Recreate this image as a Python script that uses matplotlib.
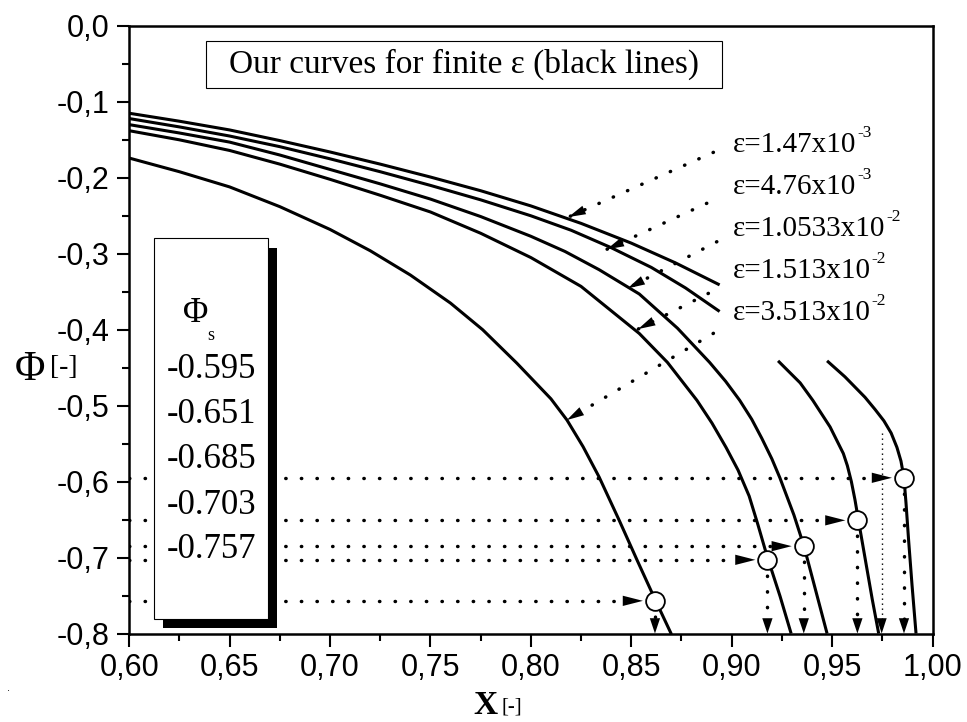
import matplotlib
matplotlib.use('Agg')
import matplotlib.pyplot as plt
from matplotlib.patches import Rectangle
from matplotlib.ticker import MultipleLocator, FuncFormatter

plt.rcParams['font.family'] = ['Liberation Sans', 'DejaVu Sans']
plt.rcParams['mathtext.fontset'] = 'custom'
plt.rcParams['mathtext.rm'] = 'Liberation Serif'
plt.rcParams['mathtext.default'] = 'regular'

# ---------------- data ----------------
# curve 1 (eps = 1.47e-3), drawn in two pieces
x_c1a = [0.600, 0.625, 0.650, 0.675, 0.700, 0.725, 0.750, 0.775, 0.800, 0.825, 0.850, 0.872, 0.894]
y_c1a = [-0.115, -0.1255, -0.137, -0.151, -0.166, -0.182, -0.199, -0.217, -0.237, -0.260,
         -0.286, -0.312, -0.341]
x_c1b = [0.9475, 0.9564, 0.9664, 0.9714, 0.9758, 0.9794, 0.9823, 0.9843, 0.9858, 0.9868,
         0.9881, 0.9898, 0.9918]
y_c1b = [-0.441, -0.462, -0.489, -0.505, -0.520, -0.536, -0.555, -0.573, -0.595, -0.628,
         -0.677, -0.736, -0.800]
# curve 2 (eps = 4.76e-3), drawn in two pieces
x_c2a = [0.600, 0.625, 0.650, 0.675, 0.700, 0.725, 0.750, 0.775, 0.800, 0.820, 0.840, 0.860,
         0.877, 0.894]
y_c2a = [-0.122, -0.133, -0.145, -0.159, -0.175, -0.192, -0.210, -0.229, -0.250, -0.269,
         -0.292, -0.318, -0.345, -0.376]
x_c2b = [0.9231, 0.9341, 0.9404, 0.9490, 0.9556, 0.9576, 0.9596, 0.9614, 0.9632, 0.9665,
         0.9700, 0.9732]
y_c2b = [-0.441, -0.470, -0.493, -0.528, -0.563, -0.579, -0.600, -0.624, -0.652, -0.702,
         -0.755, -0.800]
# curve 3 (eps = 1.0533e-2)
x_c3 = [0.600, 0.625, 0.650, 0.675, 0.700, 0.725, 0.750, 0.775, 0.800, 0.817, 0.834, 0.854,
        0.873, 0.889, 0.897, 0.904, 0.910, 0.915, 0.920, 0.924, 0.931, 0.936, 0.9415, 0.9475]
y_c3 = [-0.130, -0.141, -0.153, -0.170, -0.189, -0.208, -0.228, -0.251, -0.277, -0.297,
        -0.321, -0.353, -0.398, -0.443, -0.468, -0.493, -0.518, -0.543, -0.570, -0.595,
        -0.644, -0.685, -0.740, -0.800]
# curve 4 (eps = 1.513e-2)
x_c4 = [0.600, 0.625, 0.650, 0.675, 0.700, 0.725, 0.750, 0.775, 0.800, 0.825, 0.854, 0.868,
        0.8827, 0.8902, 0.8972, 0.9032, 0.9087, 0.9131, 0.9176, 0.9241, 0.9296]
y_c4 = [-0.138, -0.150, -0.164, -0.182, -0.202, -0.223, -0.245, -0.273, -0.305, -0.343,
        -0.405, -0.443, -0.493, -0.523, -0.555, -0.585, -0.619, -0.657, -0.698, -0.751, -0.800]
# curve 5 (eps = 3.513e-2)
x_c5 = [0.600, 0.625, 0.650, 0.675, 0.700, 0.720, 0.740, 0.760, 0.776, 0.793, 0.810, 0.818,
        0.826, 0.834, 0.844, 0.853, 0.862, 0.870]
y_c5 = [-0.174, -0.192, -0.212, -0.238, -0.268, -0.296, -0.328, -0.365, -0.400, -0.444,
        -0.491, -0.519, -0.554, -0.594, -0.651, -0.704, -0.756, -0.801]

# marked points (Phi_s) and their x positions
phi_s = [-0.595, -0.651, -0.685, -0.703, -0.757]
x_s = [0.9858, 0.9626, 0.9359, 0.9178, 0.8618]
phi_s_labels = ['-0.595', '-0.651', '-0.685', '-0.703', '-0.757']

# extra thin dotted marker line
x_thin = 0.9747
y_thin_top = -0.536

# epsilon labels
eps_mant = ['1.47', '4.76', '1.0533', '1.513', '3.513']
eps_exp = ['-3', '-3', '-2', '-2', '-2']
eps_arrow_start = [(0.8909, -0.1665), (0.8876, -0.2336), (0.8926, -0.2842),
                   (0.8884, -0.3522), (0.8909, -0.4048)]
eps_arrow_tip = [(0.8187, -0.2517), (0.8378, -0.2942), (0.8482, -0.3456),
                 (0.8534, -0.3992), (0.8179, -0.5190)]

# ---------------- figure ----------------
W, H = 967, 722
fig = plt.figure(figsize=(W / 100, H / 100), dpi=100)
ax = fig.add_axes([129.2 / W, 1 - 633.5 / H, (932.5 - 129.2) / W, (633.5 - 25.9) / H])
ax.set_xlim(0.6, 1.0)
ax.set_ylim(-0.8, 0.0)

curve_kw = dict(color='k', lw=2.2, solid_joinstyle='round', solid_capstyle='butt', zorder=3)
for xs, ys in [(x_c1a, y_c1a), (x_c1b, y_c1b), (x_c2a, y_c2a), (x_c2b, y_c2b),
               (x_c3, y_c3), (x_c4, y_c4), (x_c5, y_c5)]:
    ax.plot(xs, ys, **curve_kw)

dot_kw = dict(color='k', lw=2.5, ls=(0, (0.1, 4.4)), dash_capstyle='round', zorder=2)


def head(tip, start, hl=1.4, hw=0.36):
    ax.annotate('', xy=tip, xytext=start,
                arrowprops=dict(arrowstyle=f'-|>,head_length={hl},head_width={hw}',
                                lw=0, color='k', shrinkA=0, shrinkB=0,
                                mutation_scale=10), zorder=4)


# horizontal dotted arrows to the circles, and vertical ones down to the axis
for xv, yv in zip(x_s, phi_s):
    tip = xv - 0.006
    ax.plot([0.6, tip - 0.006], [yv, yv], **dot_kw)
    head((tip, yv), (0.6, yv), hl=1.45, hw=0.37)
    ax.plot([xv, xv], [yv, -0.785], **dot_kw)
    head((xv, -0.8), (xv, yv), hl=1.1, hw=0.37)

# thin dotted vertical line
ax.plot([x_thin, x_thin], [y_thin_top, -0.79], color='k', lw=1.0,
        ls=(0, (1, 2.6)), zorder=2)
head((x_thin, -0.8), (x_thin, y_thin_top), hl=1.1, hw=0.36)

# circles
ax.plot(x_s, phi_s, 'o', ms=13.5, mfc='white', mec='k', mew=1.3, zorder=6)

# epsilon arrows
for (sx, sy), (tx, ty) in zip(eps_arrow_start, eps_arrow_tip):
    ax.plot([sx, tx], [sy, ty], **dot_kw)
    head((tx, ty), (sx, sy), hl=1.25, hw=0.33)

# epsilon labels
label_base_px = [151.7, 193.5, 236.0, 278.3, 320.3]
for m, e, yb in zip(eps_mant, eps_exp, label_base_px):
    t = fig.text(733 / W, 1 - yb / H, 'ε=' + m + 'x10', family='Liberation Serif',
                 size=21, ha='left', va='baseline')
    ax.annotate(e, xy=(1, 1), xycoords=t, xytext=(0.5, 5.0), textcoords='offset points',
                family='Liberation Serif', size=12.5, ha='left', va='top')

# axes styling
for sp in ax.spines.values():
    sp.set_linewidth(1.8)
ax.xaxis.set_major_locator(MultipleLocator(0.05))
ax.xaxis.set_minor_locator(MultipleLocator(0.025))
ax.yaxis.set_major_locator(MultipleLocator(0.1))
ax.yaxis.set_minor_locator(MultipleLocator(0.05))


def fx(v, p):
    return f'{v:.2f}'.replace('.', ',')


def fy(v, p):
    if abs(v) < 1e-9:
        return '0,0'
    return f'{v:.1f}'.replace('.', ',')


ax.xaxis.set_major_formatter(FuncFormatter(fx))
ax.yaxis.set_major_formatter(FuncFormatter(fy))
ax.tick_params(which='major', direction='out', length=9, width=1.5, labelsize=22, pad=5,
               top=False, right=False)
ax.tick_params(which='minor', direction='out', length=5, width=1.5, top=False, right=False)

# title box
ax.add_patch(Rectangle((206 / W, 1 - 88 / H), (722 - 206) / W, 47 / H, transform=fig.transFigure,
                       fc='white', ec='k', lw=0.8, zorder=5, clip_on=False))
fig.text(464 / W, 1 - 64.5 / H, 'Our curves for finite ε (black lines)', family='Liberation Serif',
         size=24, ha='center', va='center', zorder=6)

# Phi_s box with shadow
ax.add_patch(Rectangle((163.3 / W, 1 - 628.3 / H), (276.7 - 163.3) / W, (628.3 - 248.3) / H,
                       transform=fig.transFigure, fc='k', ec='k', lw=0, zorder=5, clip_on=False))
ax.add_patch(Rectangle((154 / W, 1 - 619.3 / H), (267.7 - 154) / W, (619.3 - 238.3) / H,
                       transform=fig.transFigure, fc='white', ec='k', lw=0.8, zorder=6,
                       clip_on=False))
fig.text(195.5 / W, 1 - 313 / H, 'Φ', family='Liberation Serif', size=25, ha='center',
         va='center', zorder=7)
fig.text(211 / W, 1 - 335 / H, 's', family='Liberation Serif', size=13, ha='center',
         va='center', zorder=7)
for i, lab in enumerate(phi_s_labels):
    fig.text(211.5 / W, 1 - (370 + 45 * i) / H, lab, family='Liberation Serif', size=25,
             ha='center', va='center', zorder=7)

# axis labels
fig.text(30 / W, 1 - 369.5 / H, 'Φ', family='Liberation Serif', size=30, ha='center', va='center')
fig.text(64 / W, 1 - 368 / H, '[-]', family='Liberation Serif', size=20, ha='center', va='center')
fig.text(485 / W, 1 - 706 / H, 'X', family='Liberation Serif', weight='bold', size=24,
         ha='center', va='center')
fig.text(512 / W, 1 - 707 / H, '[-]', family='Liberation Serif', size=15, ha='center', va='center')
fig.text(8 / W, 1 - 688 / H, '.', size=8, ha='center', va='center')

fig.savefig('out.png', dpi=100)
